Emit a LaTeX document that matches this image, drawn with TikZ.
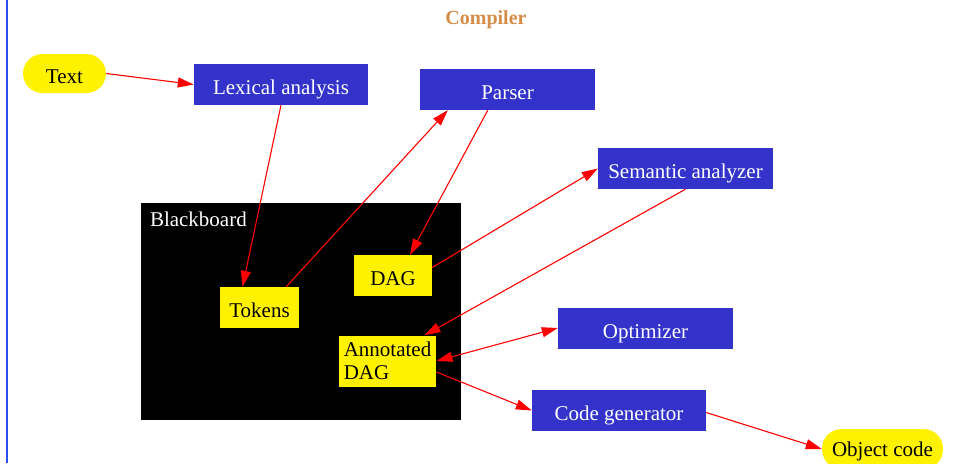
\documentclass[tikz,border=0pt]{standalone}
\usepackage{fontspec}
\setmainfont{Liberation Serif}
\usetikzlibrary{arrows.meta,positioning,calc}
\definecolor{procblue}{RGB}{51,51,204}
\definecolor{titleorange}{RGB}{212,140,72}
\definecolor{edgeblue}{RGB}{40,80,240}

\begin{document}
\begin{tikzpicture}[x=1pt,y=-1pt,
	proc/.style={rectangle,fill=procblue,text=white,minimum width=174pt,minimum height=41pt,inner sep=0pt,text height=20pt,text depth=0pt},
	data/.style={rectangle,fill=yellow,minimum height=41pt,inner sep=5pt},
	pill/.style={rectangle,rounded corners=19.5pt,fill=yellow,minimum height=39pt,inner sep=0pt,text height=20pt,text depth=0pt},
	flow/.style={red,line width=1.1pt,-{Triangle[length=16pt,width=10pt]}},
	every node/.style={font=\fontsize{21}{23}\selectfont}]
	\useasboundingbox (0,0) rectangle (957,463);
	
	% Rand links
	\draw[edgeblue,line width=1.2pt] (7,0) -- (7,463);
	
	% Titel
	\node[text=titleorange,font=\fontsize{20}{22}\selectfont\bfseries] (title) at (486,19.5) {Compiler};
	
	% Blackboard
	\node[fill=black,minimum width=320pt,minimum height=217pt,inner sep=0pt] (board) at (301,311.5) {};
	\node[anchor=north west,text=white,inner sep=0pt] (boardlabel) at ([xshift=9pt,yshift=-9pt]board.north west) {Blackboard};
	
	\node[data,minimum width=79pt,inner sep=0pt,text height=20pt,text depth=0pt] (tokens) at (259.5,307.5) {Tokens};
	\node[data,minimum width=78pt,inner sep=0pt,text height=20pt,text depth=0pt] (dag) at (393,275.5) {DAG};
	\node[data,minimum width=97pt,minimum height=51pt,align=left] (anndag) at (387.5,361) {Annotated\\DAG};
	
	% Ein- und Ausgabe
	\node[pill,minimum width=83pt] (text) at (64.5,73.5) {Text};
	\node[pill,minimum width=121pt,minimum height=40pt,text height=15pt] (obj) at (882.5,449) {Object code};
	
	% Phasen
	\node[proc] (lex) at (281,84.5) {Lexical analysis};
	\node[proc,minimum width=175pt] (parser) at (507.5,89.5) {Parser};
	\node[proc,minimum width=175pt] (sem) at (685.5,168.5) {Semantic analyzer};
	\node[proc,minimum width=175pt] (opt) at (645.5,328) {Optimizer};
	\node[proc] (codegen) at (619,410.5) {Code generator};
	
	% Pfeile
	\draw[flow] (text.east) -- (lex.west);
	\draw[flow] (lex.south) -- ([xshift=-17pt]tokens.north);
	\draw[flow] ([xshift=-13pt]tokens.north east) -- ([xshift=28pt]parser.south west);
	\draw[flow] ([xshift=68pt]parser.south west) -- ([xshift=17pt]dag.north);
	\draw[flow] ([yshift=8pt]dag.east) -- (sem.west);
	\draw[flow] (sem.south) -- ([xshift=37pt]anndag.north);
	\draw[flow,{Triangle[length=16pt,width=10pt]}-{Triangle[length=16pt,width=10pt]}] (anndag.east) -- (opt.west);
	\draw[flow] ([yshift=-11pt]anndag.east) -- (codegen.west);
	\draw[flow] ([yshift=-2pt]codegen.east) -- (obj.west);
	
\end{tikzpicture}
\end{document}
